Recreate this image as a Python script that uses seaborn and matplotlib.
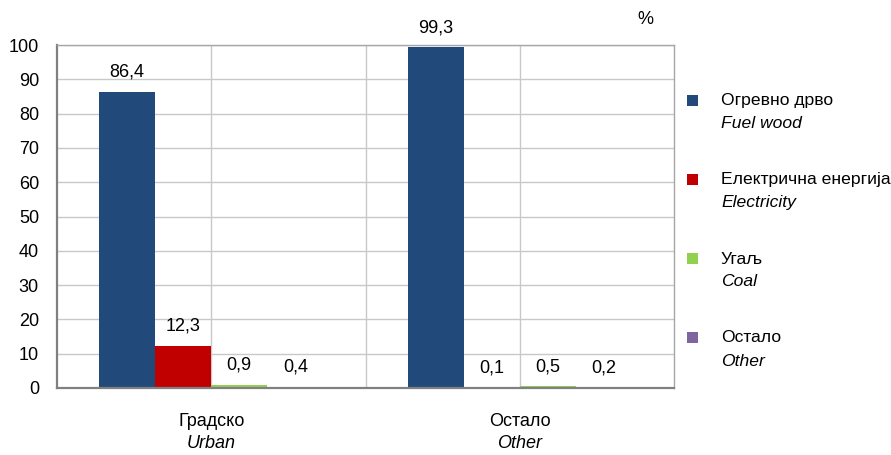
import matplotlib
matplotlib.use("Agg")
import matplotlib.pyplot as plt
import matplotlib.transforms as mtransforms
from matplotlib.patches import Rectangle
import seaborn as sns
import pandas as pd

categories_sr = ["Градско", "Остало"]
categories_en = ["Urban", "Other"]
series_sr = ["Огревно дрво", "Електрична енергија", "Угаљ", "Остало"]
series_en = ["Fuel wood", "Electricity", "Coal", "Other"]
urban_values = [86.4, 12.3, 0.9, 0.4]
other_values = [99.3, 0.1, 0.5, 0.2]
colors = ["#214A7B", "#C00000", "#92D050", "#8064A2"]
y_ticks = [0, 10, 20, 30, 40, 50, 60, 70, 80, 90, 100]

rows = []
for s, u, o in zip(series_sr, urban_values, other_values):
    rows.append({"cat": categories_sr[0], "series": s, "value": u})
    rows.append({"cat": categories_sr[1], "series": s, "value": o})
df = pd.DataFrame(rows)

sns.set_theme(style="white")
plt.rcParams["font.family"] = ["Liberation Sans", "DejaVu Sans"]
plt.rcParams["text.color"] = "black"
FS = 13

fig = plt.figure(figsize=(8.91, 4.55), dpi=100)
ax = fig.add_axes([57 / 891, 1 - 388 / 455, (674 - 57) / 891, (388 - 45) / 455])

sns.barplot(data=df, x="cat", y="value", hue="series", order=categories_sr,
            hue_order=series_sr, palette=colors, width=0.727, dodge=True,
            saturation=1, errorbar=None, legend=False, linewidth=0, ax=ax)

for cont in ax.containers:
    labels = [f"{v:.1f}".replace(".", ",") for v in cont.datavalues]
    ax.bar_label(cont, labels=labels, padding=8, fontsize=FS, color="black")

ax.set_xlim(-0.5, 1.5)
ax.set_ylim(0, 100)
ax.set_yticks(y_ticks)
ax.set_xticks([0, 0.5, 1])
ax.set_xticklabels(["", "", ""])
ax.tick_params(axis="both", length=0, labelsize=FS, colors="black")
ax.tick_params(axis="y", pad=13)
ax.set_xlabel("")
ax.set_ylabel("")
ax.set_axisbelow(True)
ax.grid(True, axis="both", color="#C8C8C8", linewidth=1.0)

for side in ["left", "bottom"]:
    ax.spines[side].set_color("#808080")
    ax.spines[side].set_linewidth(1.6)
for side in ["top", "right"]:
    ax.spines[side].set_color("#A6A6A6")
    ax.spines[side].set_linewidth(1.0)

trans = mtransforms.blended_transform_factory(ax.transData, ax.transAxes)
for i, (sr, en) in enumerate(zip(categories_sr, categories_en)):
    ax.text(i, -0.099, sr, transform=trans, ha="center", va="center",
            fontsize=FS, color="black")
    ax.text(i, -0.163, en, transform=trans, ha="center", va="center",
            fontsize=FS, style="italic", color="black")

fig.text(645 / 891, 1 - 20 / 455, "%", ha="center", va="center", fontsize=FS, color="black")

LFS = 12.6
y0 = 100
step = 79
for k, (sr, en, c) in enumerate(zip(series_sr, series_en, colors)):
    yc = y0 + k * step
    fig.patches.append(Rectangle((687 / 891, 1 - (yc + 5.5) / 455), 11 / 891, 11 / 455,
                                 transform=fig.transFigure, facecolor=c, edgecolor="none"))
    fig.text(721 / 891, 1 - (yc + 1) / 455, sr, ha="left", va="center",
             fontsize=LFS, color="black")
    fig.text(721 / 891, 1 - (yc + 24) / 455, en, ha="left", va="center",
             fontsize=LFS, style="italic", color="black")

fig.savefig("out.png", dpi=100)
